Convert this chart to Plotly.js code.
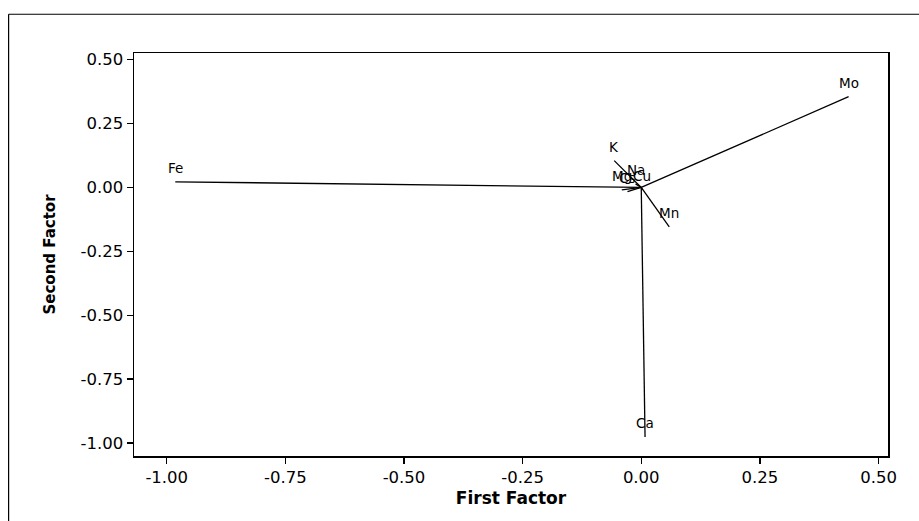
<!DOCTYPE html>
<html>
<head>
<meta charset="utf-8">
<script src="https://cdn.plot.ly/plotly-3.0.1.min.js"></script>
<style>html,body{margin:0;padding:0;background:#fff;}#chart{width:919px;height:521px;}</style>
</head>
<body>
<div id="chart"></div>
<script>
const variables = ["Fe", "Mo", "Ca", "Mn", "K", "Na", "Cu", "Mg", "Cs"];
const firstFactor = [-0.982, 0.437, 0.008, 0.059, -0.057, -0.012, 0.002, -0.041, -0.029];
const secondFactor = [0.022, 0.355, -0.977, -0.154, 0.105, 0.014, -0.010, -0.010, -0.016];
const xTickVals = [-1.0, -0.75, -0.5, -0.25, 0.0, 0.25, 0.5];
const xTickText = ["-1.00", "-0.75", "-0.50", "-0.25", "0.00", "0.25", "0.50"];
const yTickVals = [0.5, 0.25, 0.0, -0.25, -0.5, -0.75, -1.0];
const yTickText = ["0.50", "0.25", "0.00", "-0.25", "-0.50", "-0.75", "-1.00"];

const lx = [], ly = [];
for (let i = 0; i < variables.length; i++) {
  lx.push(0, firstFactor[i], null);
  ly.push(0, secondFactor[i], null);
}

const traces = [
  {
    x: lx, y: ly, mode: "lines", type: "scatter",
    line: {color: "#000", width: 1.3},
    hoverinfo: "skip", showlegend: false
  }
];

const fontFam = "DejaVu Sans, Verdana, sans-serif";
const labelAnnotations = variables.map((v, i) => ({
  x: firstFactor[i], y: secondFactor[i], xref: "x", yref: "y",
  text: v, showarrow: false, xanchor: "center", yanchor: "bottom", yshift: 4,
  font: {family: fontFam, size: 13.5, color: "#000"}
}));

const layout = {
  width: 919, height: 521,
  margin: {l: 134, r: 31, t: 53, b: 65},
  paper_bgcolor: "#fff", plot_bgcolor: "#fff",
  font: {family: fontFam, color: "#000"},
  showlegend: false,
  xaxis: {
    range: [-1.069, 0.52],
    tickvals: xTickVals, ticktext: xTickText,
    ticks: "outside", ticklen: 6, tickwidth: 1.3, tickcolor: "#000",
    showline: true, mirror: true, linecolor: "#000", linewidth: 1.5,
    showgrid: false, zeroline: false,
    tickfont: {family: fontFam, size: 16.5, color: "#000"},
    title: {text: "First Factor", font: {family: fontFam, size: 17, color: "#000", weight: "bold"}, standoff: 6}
  },
  yaxis: {
    range: [-1.051, 0.526],
    tickvals: yTickVals, ticktext: yTickText,
    ticks: "outside", ticklen: 6, tickwidth: 1.3, tickcolor: "#000",
    showline: true, mirror: true, linecolor: "#000", linewidth: 1.5,
    showgrid: false, zeroline: false,
    tickfont: {family: fontFam, size: 16.5, color: "#000"},
    title: {text: "Second Factor", font: {family: fontFam, size: 15, color: "#000", weight: "bold"}, standoff: 21}
  },
  annotations: labelAnnotations,
  shapes: [
    {type: "line", xref: "paper", yref: "paper", x0: -0.1663, x1: 1.05, y0: 1.0962, y1: 1.0962, line: {color: "#000", width: 1.2}},
    {type: "line", xref: "paper", yref: "paper", x0: -0.1663, x1: -0.1663, y0: 1.0962, y1: -0.17, line: {color: "#000", width: 1.2}}
  ]
};

Plotly.newPlot("chart", traces, layout, {displayModeBar: false, staticPlot: true});
</script>
</body>
</html>
